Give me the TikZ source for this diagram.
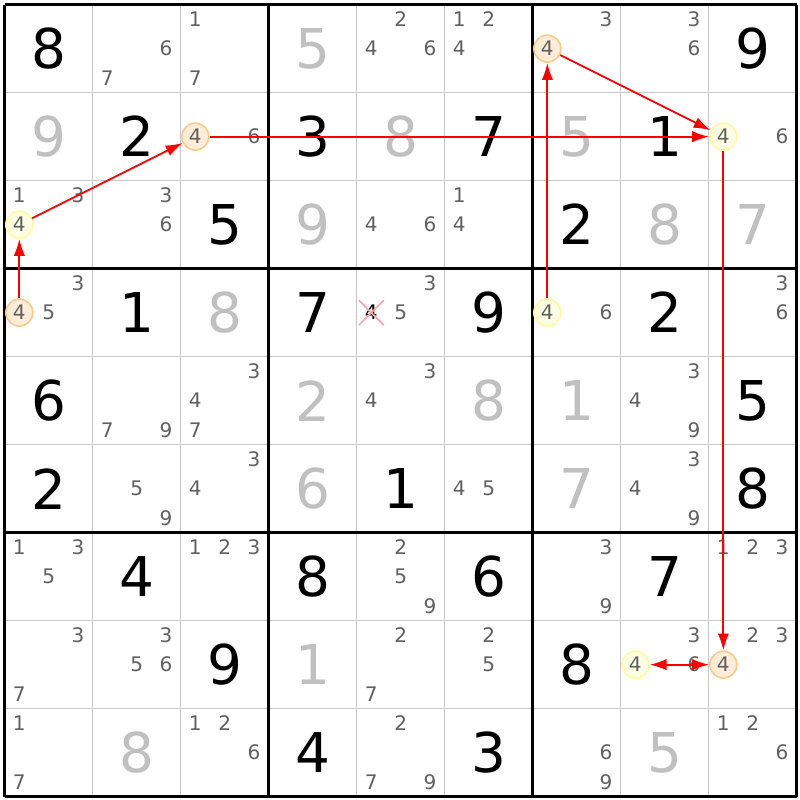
\documentclass[tikz,border=0pt]{standalone}
\usepackage{fontspec}
\setmainfont{DejaVu Sans}
\usepackage{tikz}
\usetikzlibrary{arrows.meta,shapes.misc}
\definecolor{solvedgray}{RGB}{192,192,192}
\definecolor{candgray}{RGB}{96,96,96}
\definecolor{gridgray}{RGB}{200,200,200}
\definecolor{onfill}{RGB}{253,236,215}
\definecolor{ondraw}{RGB}{250,202,140}
\definecolor{offfill}{RGB}{255,255,228}
\definecolor{offdraw}{RGB}{255,250,160}
\definecolor{elimpink}{RGB}{248,165,175}

\tikzset{
  given/.style={inner sep=0pt,text=black,font=\fontsize{15.6pt}{18pt}\selectfont},
  solved/.style={given,text=solvedgray},
  cand/.style={inner sep=0pt,text=candgray,font=\fontsize{5.7pt}{7pt}\selectfont},
  oncand/.style={cand,circle,draw=ondraw,fill=onfill,line width=0.45pt,minimum size=0.27cm},
  offcand/.style={cand,circle,draw=offdraw,fill=offfill,line width=0.45pt,minimum size=0.27cm},
  elimcand/.style={cand,text=black,cross out,draw=elimpink,line width=0.5pt,minimum size=0.23cm},
  thinline/.style={gridgray,line width=0.35pt},
  thickline/.style={black,line width=0.9pt},
  chain/.style={red,line width=0.5pt,-{Latex[length=4.8pt,width=3.2pt]}},
  twochain/.style={chain,{Latex[length=4.8pt,width=3.2pt]}-{Latex[length=4.8pt,width=3.2pt]}}
}

\newcommand{\Given}[3]{\node[given] (g#1#2) at (#2-0.5,#1-0.5) {#3};}
\newcommand{\Solved}[3]{\node[solved] (s#1#2) at (#2-0.5,#1-0.5) {#3};}
\newcommand{\Cands}[3]{\foreach \d in {#3}{\node[cand] (c#1#2\d) at ({#2-1+(mod(\d-1,3)+0.5)/3},{#1-1+(floor((\d-1)/3)+0.5)/3}) {\d};}}
\newcommand{\Mark}[4]{\node[#4] (k#1#2) at ({#2-1+(mod(#3-1,3)+0.5)/3},{#1-1+(floor((#3-1)/3)+0.5)/3}) {#3};}

\begin{document}
\begin{tikzpicture}[x=0.88cm,y=-0.88cm]
    \useasboundingbox[fill=white] (-0.053,-0.053) rectangle (9.038,9.038);
    \foreach \k in {1,2,4,5,7,8}{
        \draw[thinline] (\k,0) -- (\k,9);
        \draw[thinline] (0,\k) -- (9,\k);
    }
    \foreach \k in {0,3,6,9}{
        \draw[thickline] (\k,0) -- (\k,9);
        \draw[thickline] (0,\k) -- (9,\k);
    }

    \Given{1}{1}{8} \Cands{1}{2}{6,7} \Cands{1}{3}{1,7} \Solved{1}{4}{5} \Cands{1}{5}{2,4,6}
    \Cands{1}{6}{1,2,4} \Cands{1}{7}{3} \Mark{1}{7}{4}{oncand} \Cands{1}{8}{3,6} \Given{1}{9}{9}

    \Solved{2}{1}{9} \Given{2}{2}{2} \Mark{2}{3}{4}{oncand} \Cands{2}{3}{6} \Given{2}{4}{3}
    \Solved{2}{5}{8} \Given{2}{6}{7} \Solved{2}{7}{5} \Given{2}{8}{1} \Mark{2}{9}{4}{offcand} \Cands{2}{9}{6}

    \Cands{3}{1}{1,3} \Mark{3}{1}{4}{offcand} \Cands{3}{2}{3,6} \Given{3}{3}{5} \Solved{3}{4}{9}
    \Cands{3}{5}{4,6} \Cands{3}{6}{1,4} \Given{3}{7}{2} \Solved{3}{8}{8} \Solved{3}{9}{7}

    \Cands{4}{1}{3,5} \Mark{4}{1}{4}{oncand} \Given{4}{2}{1} \Solved{4}{3}{8} \Given{4}{4}{7}
    \Cands{4}{5}{3,5} \Mark{4}{5}{4}{elimcand} \Given{4}{6}{9} \Mark{4}{7}{4}{offcand} \Cands{4}{7}{6}
    \Given{4}{8}{2} \Cands{4}{9}{3,6}

    \Given{5}{1}{6} \Cands{5}{2}{7,9} \Cands{5}{3}{3,4,7} \Solved{5}{4}{2} \Cands{5}{5}{3,4}
    \Solved{5}{6}{8} \Solved{5}{7}{1} \Cands{5}{8}{3,4,9} \Given{5}{9}{5}

    \Given{6}{1}{2} \Cands{6}{2}{5,9} \Cands{6}{3}{3,4} \Solved{6}{4}{6} \Given{6}{5}{1}
    \Cands{6}{6}{4,5} \Solved{6}{7}{7} \Cands{6}{8}{3,4,9} \Given{6}{9}{8}

    \Cands{7}{1}{1,3,5} \Given{7}{2}{4} \Cands{7}{3}{1,2,3} \Given{7}{4}{8} \Cands{7}{5}{2,5,9}
    \Given{7}{6}{6} \Cands{7}{7}{3,9} \Given{7}{8}{7} \Cands{7}{9}{1,2,3}

    \Cands{8}{1}{3,7} \Cands{8}{2}{3,5,6} \Given{8}{3}{9} \Solved{8}{4}{1} \Cands{8}{5}{2,7}
    \Cands{8}{6}{2,5} \Given{8}{7}{8} \Cands{8}{8}{3,6} \Mark{8}{8}{4}{offcand}
    \Cands{8}{9}{2,3} \Mark{8}{9}{4}{oncand}

    \Cands{9}{1}{1,7} \Solved{9}{2}{8} \Cands{9}{3}{1,2,6} \Given{9}{4}{4} \Cands{9}{5}{2,7,9}
    \Given{9}{6}{3} \Cands{9}{7}{6,9} \Solved{9}{8}{5} \Cands{9}{9}{1,2,6}

    \draw[chain] (k41) -- (k31);
    \draw[chain] (k31) -- (k23);
    \draw[chain] (k23) -- (k29);
    \draw[chain] (k47) -- (k17);
    \draw[chain] (k17) -- (k29);
    \draw[chain] (k29) -- (k89);
    \draw[twochain] (k88) -- (k89);
\end{tikzpicture}
\end{document}
